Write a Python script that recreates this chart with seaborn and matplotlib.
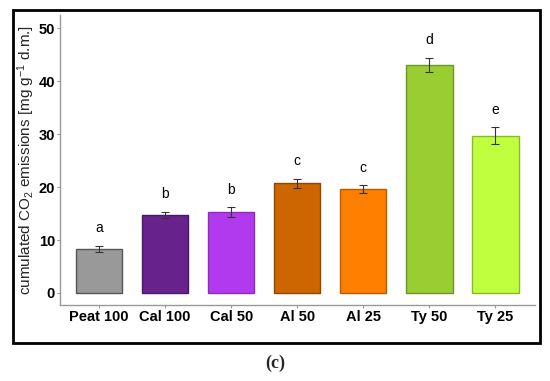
import pandas as pd
import matplotlib.pyplot as plt
import matplotlib.patches as mpatches
import seaborn as sns

# Data
treatments = ['Peat 100', 'Cal 100', 'Cal 50', 'Al 50', 'Al 25', 'Ty 50', 'Ty 25']
emissions = [8.3, 14.7, 15.3, 20.7, 19.6, 43.1, 29.7]
errors = [0.6, 0.6, 0.9, 0.9, 0.7, 1.3, 1.6]
letters = ['a', 'b', 'b', 'c', 'c', 'd', 'e']
fill_colors = ['#999999', '#68228B', '#B23AEE', '#CD6600', '#FF7F00', '#9ACD32', '#C0FF3E']
edge_colors = ['#555555', '#4A1763', '#8A2CB8', '#8F4700', '#B85C00', '#6E9424', '#8AB82C']

df = pd.DataFrame({'treatment': treatments, 'co2': emissions, 'se': errors})

sns.set_style('white')
plt.rcParams['font.family'] = ['Liberation Sans', 'DejaVu Sans']
plt.rcParams['mathtext.fontset'] = 'custom'
plt.rcParams['mathtext.rm'] = 'Liberation Sans'
plt.rcParams['mathtext.it'] = 'Liberation Sans:italic'

fig = plt.figure(figsize=(5.5, 3.81), dpi=100)
ax = fig.add_axes([0.109, 0.199, 0.864, 0.762])

sns.barplot(data=df, x='treatment', y='co2', hue='treatment', palette=fill_colors,
            width=0.7, saturation=1, legend=False, ax=ax)
for patch, ec in zip(ax.patches, edge_colors):
    patch.set_edgecolor(ec)
    patch.set_linewidth(1.0)

ax.errorbar(range(len(treatments)), df['co2'], yerr=df['se'], fmt='none',
            ecolor='#333333', elinewidth=0.8, capsize=3, capthick=0.8)

for i, (v, e, lab) in enumerate(zip(emissions, errors, letters)):
    ax.text(i, v + e + 2.0, lab, ha='center', va='bottom', fontsize=10, color='black')

ax.set_xlim(-0.59, 6.6)
ax.set_ylim(-2.3, 52.5)
ax.set_yticks([0, 10, 20, 30, 40, 50])
ax.set_xlabel('')
ax.set_ylabel('cumulated CO$_\\mathrm{2}$ emissions [mg g$^{\\mathrm{-1}}$ d.m.]', fontsize=11,
              labelpad=1)

for side in ['top', 'right']:
    ax.spines[side].set_visible(False)
for side in ['left', 'bottom']:
    ax.spines[side].set_color('#999999')
    ax.spines[side].set_linewidth(1.0)
ax.tick_params(axis='both', colors='#999999', labelcolor='black', length=2.5, width=0.8,
               labelsize=10.5, left=True, bottom=True, pad=1)
for lbl in ax.get_xticklabels() + ax.get_yticklabels():
    lbl.set_fontweight('bold')

# Outer black frame around the panel
frame = mpatches.Rectangle((0.024, 0.0997), 0.958, 0.874, transform=fig.transFigure,
                           fill=False, edgecolor='black', linewidth=2)
fig.patches.append(frame)

fig.text(0.5, 0.047, '(c)', ha='center', va='center', fontsize=13,
         family='Liberation Serif', fontweight='bold')

fig.savefig('out.png', dpi=100)
